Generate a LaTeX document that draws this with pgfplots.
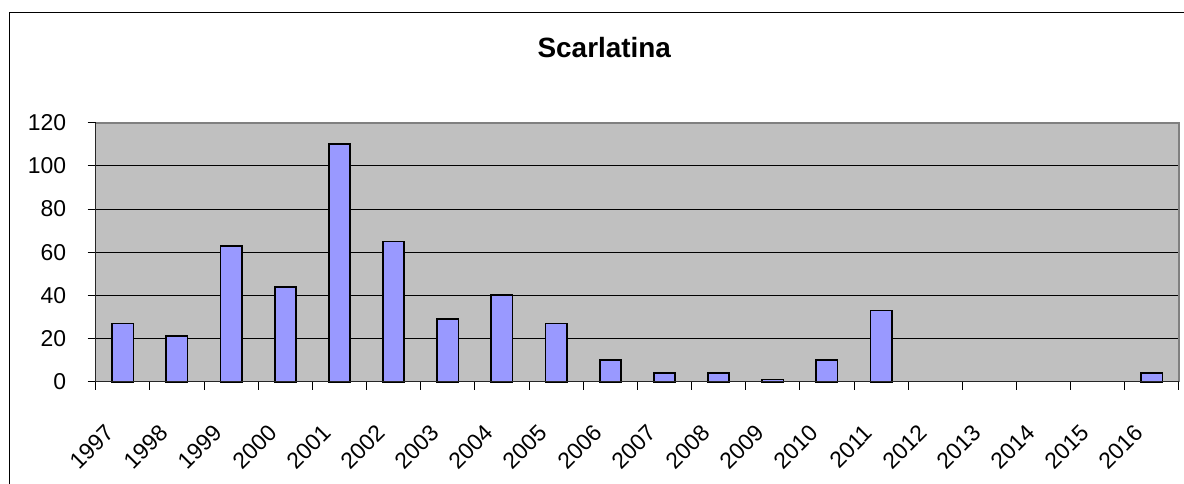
\documentclass[border=0pt]{standalone}
\usepackage{fontspec}
\setmainfont{Liberation Sans}
\usepackage{pgfplots}
\pgfplotsset{compat=1.18}
\definecolor{plotbg}{RGB}{192,192,192}
\definecolor{barfill}{RGB}{153,153,255}
\definecolor{borderg}{RGB}{128,128,128}
\begin{document}
\begin{tikzpicture}
\useasboundingbox (0bp,0bp) rectangle (1184bp,484bp);
\draw[black, line width=1.3bp] (9.7bp,-20bp) -- (9.7bp,471.7bp) -- (1200bp,471.7bp);
\node[anchor=base, inner sep=0pt, font=\fontsize{28}{32}\selectfont\bfseries] at (604.3bp,426.7bp) {Scarlatina};
\begin{axis}[
  at={(95.7bp,102.3bp)}, anchor=south west,
  scale only axis, width=1083.3bp, height=259bp,
  xmin=-0.5, xmax=19.5, ymin=0, ymax=120,
  axis line style={draw=none},
  axis background/.style={fill=plotbg},
  tick align=outside,
  xtick pos=left, ytick pos=left,
  major tick length=8bp,
  tick style={black, line width=1bp},
  xtick={-0.5,0.5,...,19.5},
  xticklabels={},
  extra x ticks={-0.34,0.66,1.66,2.66,3.66,4.66,5.66,6.66,7.66,8.66,9.66,10.66,11.66,12.66,13.66,14.66,15.66,16.66,17.66,18.66},
  extra x tick labels={1997,1998,1999,2000,2001,2002,2003,2004,2005,2006,2007,2008,2009,2010,2011,2012,2013,2014,2015,2016},
  extra x tick style={major tick length=0pt, xticklabel shift=41bp,
    xticklabel style={font=\fontsize{23}{27}\selectfont, inner sep=0pt, anchor=north east, rotate=45}},
  ytick={0,20,...,120},
  yticklabel shift=21.4bp,
  yticklabel style={font=\fontsize{23}{27}\selectfont, inner sep=0pt, anchor=east},
  /pgf/number format/assume math mode=true,
  ymajorgrids,
  major grid style={black, line width=1bp},
  clip=false,
]
\addplot[ybar, bar width=21.3bp, fill=barfill, draw=black, line width=1.8bp,
  restrict y to domain=0.5:200] coordinates {
(0,27) (1,21) (2,63) (3,44) (4,110) (5,65) (6,29) (7,40) (8,27) (9,10)
(10,4) (11,4) (12,1) (13,10) (14,33) (15,0) (16,0) (17,0) (18,0) (19,4)};
\draw[borderg, line width=2.3bp] (rel axis cs:0,1) -- (rel axis cs:1,1) -- (rel axis cs:1,0);
\draw[black!85, line width=1.5bp] (rel axis cs:0,1) -- (rel axis cs:0,0) -- (rel axis cs:1,0);
\end{axis}
\end{tikzpicture}
\end{document}
